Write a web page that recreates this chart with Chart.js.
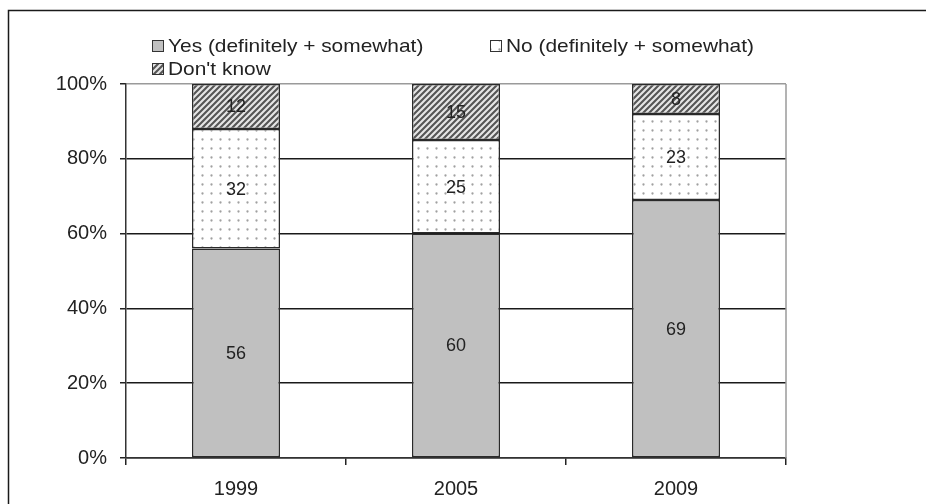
<!DOCTYPE html>
<html>
<head>
<meta charset="utf-8">
<script src="https://cdn.jsdelivr.net/npm/chart.js@4/dist/chart.umd.min.js"></script>
<style>
  html, body { margin: 0; padding: 0; background: #fff; }
  #wrap { width: 926px; height: 504px; }
</style>
</head>
<body>
<div id="wrap"><canvas id="c" width="926" height="504"></canvas></div>
<script>
// Survey answers by year, in percent of respondents
const years = ['1999', '2005', '2009'];
const yesValues = [56, 60, 69];
const noValues = [32, 25, 23];
const dontKnowValues = [12, 15, 8];
const seriesNames = ['Yes (definitely + somewhat)', 'No (definitely + somewhat)', "Don't know"];
const yTickStep = 20;

const FONT = '"Liberation Sans", Arial, sans-serif';
const INK = '#222';

const canvas = document.getElementById('c');
const ctx = canvas.getContext('2d');

// Light dotted fill for the "No" segments
function makeDots() {
  const t = document.createElement('canvas');
  t.width = 9; t.height = 9;
  const g = t.getContext('2d');
  g.fillStyle = '#fff';
  g.fillRect(0, 0, 9, 9);
  g.fillStyle = '#a0a0a0';
  g.beginPath();
  g.arc(4.5, 4.5, 1.15, 0, Math.PI * 2);
  g.fill();
  return ctx.createPattern(t, 'repeat');
}

// Diagonal hatching for the "Don't know" segments
function makeHatch() {
  const s = 6;
  const t = document.createElement('canvas');
  t.width = s; t.height = s;
  const g = t.getContext('2d');
  g.fillStyle = '#e6e6e6';
  g.fillRect(0, 0, s, s);
  g.strokeStyle = '#555';
  g.lineWidth = 2.1;
  g.beginPath();
  g.moveTo(0, s); g.lineTo(s, 0);
  g.moveTo(-s / 2, s / 2); g.lineTo(s / 2, -s / 2);
  g.moveTo(s / 2, s * 1.5); g.lineTo(s * 1.5, s / 2);
  g.stroke();
  return ctx.createPattern(t, 'repeat');
}

const fills = ['#c0c0c0', makeDots(), makeHatch()];
const seriesValues = [yesValues, noValues, dontKnowValues];

const datasets = seriesValues.map((vals, i) => ({
  label: seriesNames[i],
  data: vals,
  backgroundColor: fills[i],
  borderColor: '#2a2a2a',
  borderWidth: 1.5,
  borderSkipped: false,
  barPercentage: 0.4,
  categoryPercentage: 1
}));

// Outer frame and right edge of the plot area
const framePlugin = {
  id: 'frame',
  beforeDatasetsDraw(chart) {
    const c = chart.ctx, a = chart.chartArea;
    c.save();
    c.strokeStyle = '#9a9a9a';
    c.lineWidth = 1.5;
    c.beginPath();
    c.moveTo(a.right, a.top);
    c.lineTo(a.right, a.bottom);
    c.stroke();
    c.restore();
  },
  afterDraw(chart) {
    const c = chart.ctx;
    c.save();
    c.strokeStyle = '#1a1a1a';
    c.lineWidth = 1.5;
    c.beginPath();
    c.moveTo(8.5, chart.height);
    c.lineTo(8.5, 10.5);
    c.lineTo(chart.width, 10.5);
    c.stroke();
    c.restore();
  }
};

// Value printed in the middle of each segment
const valueLabels = {
  id: 'valueLabels',
  afterDatasetsDraw(chart) {
    const c = chart.ctx;
    c.save();
    c.font = '18px ' + FONT;
    c.fillStyle = INK;
    c.textAlign = 'center';
    c.textBaseline = 'middle';
    chart.data.datasets.forEach((ds, i) => {
      chart.getDatasetMeta(i).data.forEach((bar, j) => {
        const p = bar.getProps(['x', 'y', 'base'], true);
        c.fillText(String(ds.data[j]), p.x, (p.y + p.base) / 2 + 1);
      });
    });
    c.restore();
  }
};

// Legend: two entries on the first row, one on the second
const legendSlots = [[152, 46], [490, 46], [152, 69]];
const legendPlugin = {
  id: 'legendBox',
  afterDraw(chart) {
    const c = chart.ctx;
    c.save();
    c.font = '19px ' + FONT;
    c.textBaseline = 'middle';
    chart.data.datasets.forEach((ds, i) => {
      const [x, y] = legendSlots[i];
      c.fillStyle = ds.backgroundColor;
      c.fillRect(x, y - 6, 11, 11);
      c.strokeStyle = '#333';
      c.lineWidth = 1;
      c.strokeRect(x + 0.5, y - 5.5, 11, 11);
      c.fillStyle = INK;
      c.save();
      c.translate(x + 16, y + 1);
      c.scale(1.1, 1);
      c.fillText(ds.label, 0, 0);
      c.restore();
    });
    c.restore();
  }
};

new Chart(canvas, {
  type: 'bar',
  data: { labels: years, datasets },
  options: {
    responsive: false,
    animation: false,
    devicePixelRatio: 1,
    layout: { padding: { left: 0, right: 140, top: 84, bottom: 0 } },
    plugins: { legend: { display: false }, tooltip: { enabled: false } },
    scales: {
      x: {
        stacked: true,
        grid: { offset: true, drawOnChartArea: false, drawTicks: true, tickLength: 7, color: INK, lineWidth: 1.5 },
        border: { color: '#333', width: 1.5 },
        ticks: { font: { family: FONT, size: 20 }, color: INK, padding: 12 },
        afterFit(s) { s.height = 46; }
      },
      y: {
        stacked: true,
        min: 0,
        max: 100,
        ticks: {
          stepSize: yTickStep,
          callback: v => v + '%',
          font: { family: FONT, size: 20 },
          color: INK,
          padding: 13
        },
        grid: {
          color: c => (c.tick && c.tick.value === 100 ? '#9a9a9a' : '#1a1a1a'),
          lineWidth: 1.5,
          tickLength: 6,
          tickColor: INK
        },
        border: { color: '#333', width: 1.5 },
        afterFit(s) { s.width = 126; }
      }
    }
  },
  plugins: [framePlugin, valueLabels, legendPlugin]
});
</script>
</body>
</html>
